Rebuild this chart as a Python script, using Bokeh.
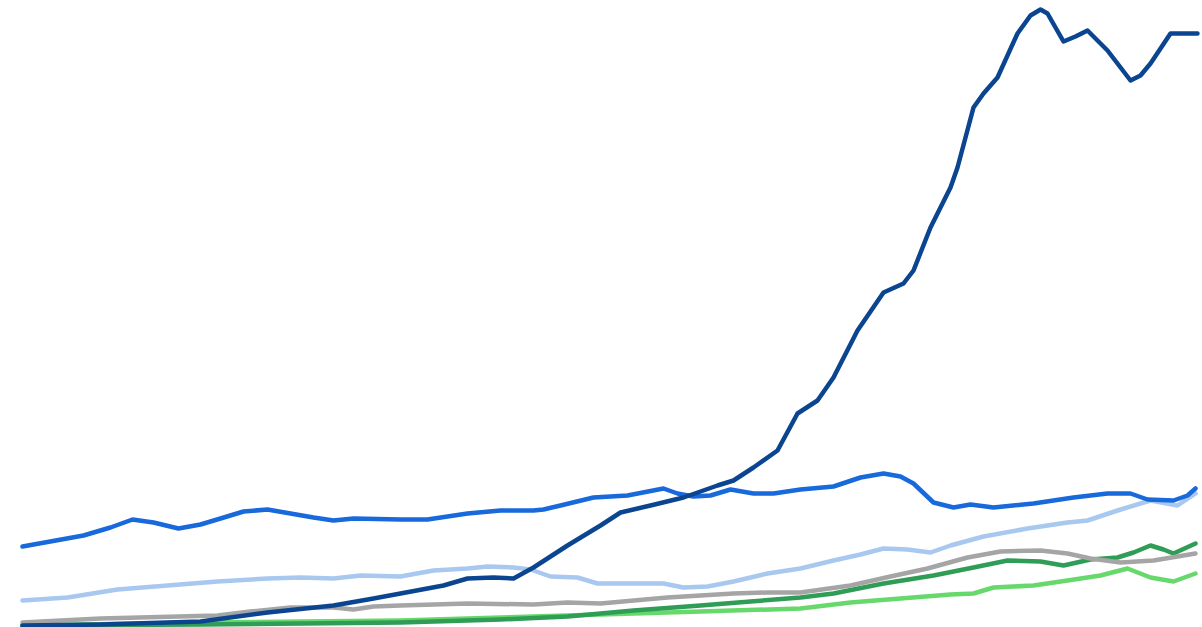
from bokeh.plotting import figure
from bokeh.models import Range1d
from bokeh.embed import file_html
from bokeh.resources import INLINE

# x positions (horizontal scale units) and values for each series
navy_x = [22, 100, 200, 267, 333, 373, 400, 443, 467, 493, 513, 533, 567, 600, 620, 650, 683, 717, 733, 753, 777,
          797, 817, 833, 857, 883, 903, 913, 930, 950, 957, 973, 983, 997, 1017, 1030, 1040, 1047, 1063, 1075, 1087,
          1107, 1130, 1140, 1150, 1170, 1197]
navy_y = [0, 1, 4, 13, 20, 27, 32, 40, 47, 48, 47, 58, 80, 100, 113, 120, 128, 140, 145, 158, 175,
          212, 225, 248, 295, 333, 342, 355, 398, 438, 458, 518, 532, 548, 592, 610, 616, 612, 584, 589, 595,
          575, 545, 550, 562, 592, 592]

blue_x = [22, 83, 110, 132, 153, 178, 200, 220, 243, 267, 290, 313, 333, 353, 400, 427, 467, 500, 533, 543, 560,
          593, 627, 663, 677, 693, 710, 730, 753, 773, 800, 833, 860, 883, 900, 913, 933, 953, 970, 993, 1033,
          1073, 1107, 1130, 1147, 1173, 1187, 1195]
blue_y = [79, 90, 98, 106, 103, 97, 101, 107, 114, 116, 112, 108, 105, 107, 106, 106, 112, 115, 115, 116, 120,
          128, 130, 137, 132, 129, 130, 136, 132, 132, 136, 139, 148, 152, 149, 142, 123, 118, 121, 118, 122,
          128, 132, 132, 126, 125, 130, 137]

light_x = [22, 67, 117, 167, 217, 267, 300, 333, 360, 400, 433, 467, 487, 513, 530, 550, 577, 597, 633, 663, 683,
           707, 733, 767, 800, 833, 860, 883, 907, 930, 950, 983, 1027, 1067, 1087, 1117, 1150, 1177, 1195]
light_y = [25, 28, 36, 40, 44, 47, 48, 47, 50, 49, 55, 57, 59, 58, 56, 49, 48, 42, 42, 42, 38,
           39, 44, 52, 57, 65, 71, 77, 76, 73, 80, 89, 97, 103, 105, 115, 125, 120, 132]

gray_x = [22, 100, 217, 250, 290, 333, 353, 373, 400, 467, 533, 567, 600, 667, 733, 767, 800, 850, 890, 927, 967,
          1000, 1040, 1067, 1090, 1120, 1153, 1195]
gray_y = [3, 7, 10, 14, 18, 18, 16, 19, 20, 22, 21, 23, 22, 28, 32, 33, 33, 40, 49, 57, 68,
          74, 75, 72, 67, 63, 65, 72]

dgreen_x = [22, 200, 400, 500, 567, 633, 700, 750, 800, 833, 883, 933, 973, 1007, 1040, 1063, 1090, 1117, 1133,
            1150, 1163, 1173, 1195]
dgreen_y = [0, 1, 3, 6, 9, 15, 20, 24, 28, 32, 42, 50, 58, 65, 64, 60, 66, 68, 73, 80, 76, 72, 82]

lgreen_x = [22, 200, 400, 500, 633, 700, 800, 850, 900, 950, 973, 993, 1033, 1067, 1100, 1127, 1150, 1173, 1195]
lgreen_y = [0, 3, 5, 8, 12, 14, 17, 23, 27, 31, 32, 38, 40, 45, 50, 57, 48, 44, 52]

W, H = 1202, 627
p = figure(width=W, height=H, output_backend="svg", toolbar_location=None,
           x_range=Range1d(0, W), y_range=Range1d(625 - H, 625),
           min_border=0, min_border_left=0, min_border_right=0, min_border_top=0, min_border_bottom=0)
p.axis.visible = False
p.grid.visible = False
p.outline_line_color = None
p.background_fill_color = "white"
p.border_fill_color = "white"

series = [
    (lgreen_x, lgreen_y, "#67d86c"),
    (dgreen_x, dgreen_y, "#2f9d55"),
    (gray_x, gray_y, "#a5a5a5"),
    (light_x, light_y, "#a8c8f0"),
    (blue_x, blue_y, "#1769dc"),
    (navy_x, navy_y, "#0b4590"),
]
for xs, ys, c in series:
    p.line(xs, ys, line_color=c, line_width=4.5, line_join="round", line_cap="round")

open("out.html", "w").write(file_html(p, INLINE))
